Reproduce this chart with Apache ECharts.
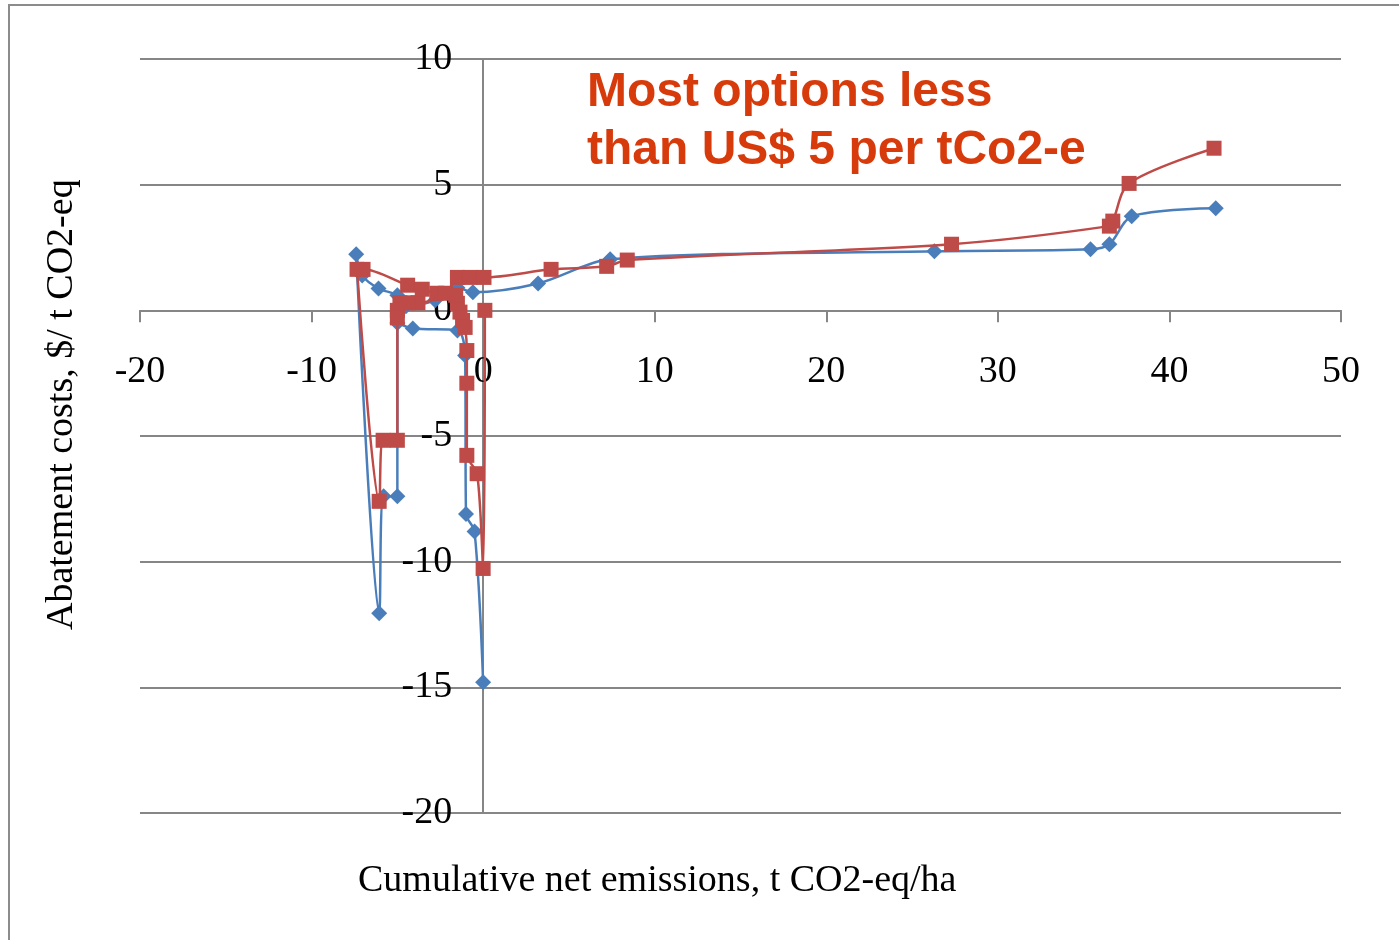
<!DOCTYPE html>
<html>
<head>
<meta charset="utf-8">
<script src="https://cdn.jsdelivr.net/npm/echarts@6/dist/echarts.min.js"></script>
<style>
  html, body { margin: 0; padding: 0; background: #fff; }
  #chart { width: 1399px; height: 940px; }
</style>
</head>
<body>
<div id="chart"></div>
<script>
// axis ticks
const xTicks = [-20, -10, 0, 10, 20, 30, 40, 50];
const yTicks = [-20, -15, -10, -5, 0, 5, 10];

// blue series (diamonds), in plotting order
const blueX = [0, -0.5, -1.0, -1.05, -1.5, -4.1, -5.0, -5.0, -5.8, -6.06, -7.4, -7.05, -6.1, -5.0, -4.5, -2.8, -1.5, -0.6, 3.2, 7.4, 26.3, 35.4, 36.5, 37.8, 42.7];
const blueY = [-14.8, -8.8, -8.1, -1.8, -0.8, -0.72, -0.5, -7.4, -7.4, -12.05, 2.23, 1.39, 0.87, 0.6, 0.16, 0.4, 0.9, 0.72, 1.07, 2.03, 2.35, 2.43, 2.63, 3.74, 4.06];

// red series (squares), in plotting order
const redX = [0.1, 0, -0.35, -0.95, -0.95, -0.95, -1.05, -1.2, -1.35, -1.5, -1.6, -3.8, -4.4, -4.85, -5.0, -5.0, -5.0, -5.83, -6.06, -7.35, -7.0, -4.4, -3.55, -2.7, -2.2, -1.5, -0.76, 0.05, 3.96, 7.2, 8.4, 27.3, 36.5, 36.7, 37.65, 42.6];
const redY = [0.0, -10.27, -6.5, -5.77, -2.9, -1.6, -0.68, -0.4, -0.07, 0.28, 0.6, 0.3, 0.3, 0.3, 0.0, -0.3, -5.17, -5.17, -7.6, 1.63, 1.63, 1.0, 0.84, 0.68, 0.68, 1.31, 1.31, 1.31, 1.63, 1.75, 2.0, 2.63, 3.35, 3.55, 5.05, 6.45];

const noteLines = ['Most options less', 'than US$ 5 per tCo2-e'];

const pairs = (xs, ys) => xs.map((x, i) => [x, ys[i]]);

const chart = echarts.init(document.getElementById('chart'));

const serifFont = '"Liberation Serif", "DejaVu Serif", serif';
const gridColor = '#868686';

// plot area
const gridLeft = 140, gridRight = 58, gridTop = 59, gridBottom = 127;
const plotW = 1399 - gridLeft - gridRight;
const plotH = 940 - gridTop - gridBottom;
// move the axes to the zero crossings (labels travel with them)
const xAxisOffset = -plotH * (0 - yTicks[0]) / (yTicks[yTicks.length - 1] - yTicks[0]);
const yAxisOffset = -plotW * (0 - xTicks[0]) / (xTicks[xTicks.length - 1] - xTicks[0]);

const option = {
  animation: false,
  grid: { left: gridLeft, right: gridRight, top: gridTop, bottom: gridBottom },
  xAxis: {
    type: 'value',
    min: xTicks[0],
    max: xTicks[xTicks.length - 1],
    interval: 10,
    offset: xAxisOffset,
    axisLine: { onZero: false, lineStyle: { color: gridColor, width: 2 } },
    axisTick: { show: true, length: 12, lineStyle: { color: gridColor, width: 2 } },
    axisLabel: { margin: 43, color: '#000', fontFamily: serifFont, fontSize: 38 },
    splitLine: { show: false }
  },
  yAxis: {
    type: 'value',
    min: yTicks[0],
    max: yTicks[yTicks.length - 1],
    interval: 5,
    offset: yAxisOffset,
    axisLine: { onZero: false, lineStyle: { color: gridColor, width: 2 } },
    axisTick: { show: false },
    axisLabel: { margin: 31, color: '#000', fontFamily: serifFont, fontSize: 38, padding: [4, 0, 0, 0] },
    splitLine: { show: true, lineStyle: { color: gridColor, width: 2 } }
  },
  graphic: [
    {
      type: 'rect', silent: true, z: -1,
      shape: { x: 9, y: 5, width: 1400, height: 950 },
      style: { fill: 'none', stroke: '#8c8c8c', lineWidth: 2 }
    },
    {
      type: 'text', left: 587, top: 64,
      style: {
        text: noteLines.join('\n'),
        font: 'bold 48px "Liberation Sans", Arial, sans-serif',
        fill: '#d83b0b',
        lineHeight: 58
      }
    },
    {
      type: 'text', left: 358, top: 862,
      style: {
        text: 'Cumulative net emissions, t CO2-eq/ha',
        font: '38px ' + serifFont,
        fill: '#000'
      }
    },
    {
      type: 'text', x: 43, y: 630, rotation: Math.PI / 2,
      style: {
        text: 'Abatement costs, $/ t CO2-eq',
        font: '38px ' + serifFont,
        fill: '#000'
      }
    }
  ],
  series: [
    {
      type: 'line',
      data: pairs(blueX, blueY),
      smooth: 0.3,
      symbol: 'diamond',
      symbolSize: 16,
      showAllSymbol: true,
      lineStyle: { color: '#4a7ebb', width: 2.5 },
      itemStyle: { color: '#4a7ebb' },
      z: 3
    },
    {
      type: 'line',
      data: pairs(redX, redY),
      smooth: 0.3,
      symbol: 'rect',
      symbolSize: 15,
      showAllSymbol: true,
      lineStyle: { color: '#be4b48', width: 2.5 },
      itemStyle: { color: '#be4b48' },
      z: 4
    }
  ]
};

chart.setOption(option);
</script>
</body>
</html>
